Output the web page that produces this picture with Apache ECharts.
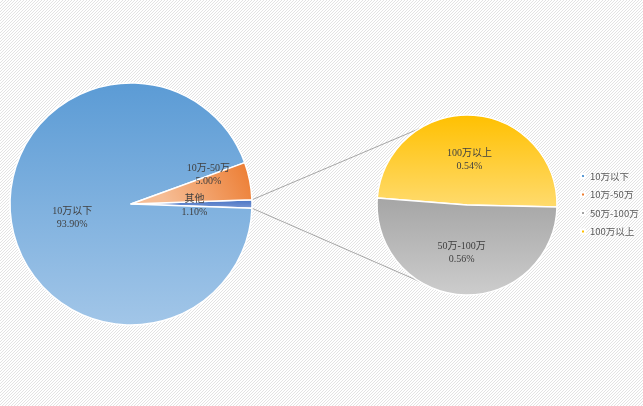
<!DOCTYPE html>
<html>
<head>
<meta charset="utf-8">
<script src="https://cdn.jsdelivr.net/npm/echarts@6/dist/echarts.min.js"></script>
<style>
html,body{margin:0;padding:0;width:643px;height:406px;overflow:hidden;background:#f2f2f2;}
#main{width:643px;height:406px;}
</style>
</head>
<body>
<div id="main"></div>
<script>
// ---- data ----
const mainNames = ['10万以下', '10万-50万'];
const mainValues = [93.90, 5.00];
const otherName = '其他';
const subNames = ['100万以上', '50万-100万'];
const subValues = [0.54, 0.56];
const legendNames = ['10万以下', '10万-50万', '50万-100万', '100万以上'];

// ---- striped background tile ----
(function () {
  const c = document.createElement('canvas');
  c.width = 3; c.height = 3;
  const g = c.getContext('2d');
  g.fillStyle = '#ffffff'; g.fillRect(0, 0, 3, 3);
  g.fillStyle = '#e3e3e3';
  for (let i = 0; i < 3; i++) g.fillRect(i, 2 - i, 1, 1);
  document.body.style.background = 'url(' + c.toDataURL() + ') repeat';
})();

// ---- styles ----
const grad = (c1, c2) => ({type:'linear', x:0, y:0, x2:0, y2:1, colorStops:[{offset:0,color:c1},{offset:1,color:c2}]});
const styleMap = {
  '10万以下': {fill: grad('#5b9bd5', '#a2c6e8'), solid: '#5b9bd5'},
  '10万-50万': {fill: {type:'linear',x:1,y:0,x2:0.3,y2:1,colorStops:[{offset:0,color:'#ec7a2e'},{offset:1,color:'#f6bd95'}]}, solid: '#ed7d31'},
  '其他': {fill: grad('#4472c4', '#7b98d4'), solid: '#4472c4'},
  '100万以上': {fill: grad('#ffc000', '#ffdb6e'), solid: '#ffc000'},
  '50万-100万': {fill: grad('#a5a5a5', '#cdcdcd'), solid: '#a5a5a5'}
};

const otherValue = subValues.reduce((a, b) => a + b, 0);
const mainTotal = mainValues.reduce((a, b) => a + b, 0) + otherValue;
const otherSpan = otherValue / mainTotal * 360;
const mainStart = otherSpan / 2;

const mainCenter = [131, 204], mainR = 121;
const subCenter = [467, 205], subR = 90;

const labelFont = {fontFamily: '"Liberation Serif","Noto Sans CJK SC",serif', fontSize: 10, color: '#404040', lineHeight: 13};
const fmt = v => v.toFixed(2) + '%';

const mainData = [{name: otherName, value: otherValue}].concat(mainNames.map((n, i) => ({name: n, value: mainValues[i]})))
  .map(d => ({...d, itemStyle: {color: styleMap[d.name].fill}}));
const subData = subNames.map((n, i) => ({name: n, value: subValues[i], itemStyle: {color: styleMap[n].fill}}));

const chart = echarts.init(document.getElementById('main'), null, {renderer: 'canvas'});

// connector lines computed from pie geometry
const toRad = a => a * Math.PI / 180;
const p1 = [mainCenter[0] + mainR * Math.cos(toRad(mainStart)), mainCenter[1] - mainR * Math.sin(toRad(mainStart))];
const p2 = [mainCenter[0] + mainR * Math.cos(toRad(mainStart - otherSpan)), mainCenter[1] - mainR * Math.sin(toRad(mainStart - otherSpan))];
const q1 = [subCenter[0] + subR * Math.cos(toRad(122)), subCenter[1] - subR * Math.sin(toRad(122))];
const q2 = [subCenter[0] + subR * Math.cos(toRad(238)), subCenter[1] - subR * Math.sin(toRad(238))];

const mainOffsets = {0: {dx: 0, dy: 2}, 1: {dx: 4, dy: 4}, 2: {dx: 15, dy: -17}};
const subOffsets = {0: {dx: 0, dy: 3}, 1: {dx: -3, dy: 0}};

chart.setOption({
  animation: false,
  backgroundColor: 'transparent',
  legend: {
    orient: 'vertical',
    left: 575,
    top: 165,
    itemWidth: 4,
    itemHeight: 4,
    itemGap: 6.5,
    icon: 'rect',
    textStyle: {fontFamily: '"Noto Sans CJK SC",sans-serif', fontSize: 9.5, color: '#595959', lineHeight: 12},
    data: legendNames.map(n => ({name: n, itemStyle: {color: styleMap[n].solid}}))
  },
  graphic: [
    {type: 'line', z: 1, shape: {x1: p1[0], y1: p1[1], x2: q1[0], y2: q1[1]}, style: {stroke: '#a6a6a6', lineWidth: 1}},
    {type: 'line', z: 1, shape: {x1: p2[0], y1: p2[1], x2: q2[0], y2: q2[1]}, style: {stroke: '#a6a6a6', lineWidth: 1}}
  ],
  series: [
    {
      type: 'pie',
      center: mainCenter,
      radius: mainR,
      startAngle: mainStart,
      clockwise: true,
      avoidLabelOverlap: false,
      itemStyle: {borderColor: '#ffffff', borderWidth: 1.5},
      label: {position: 'inside', formatter: p => p.name + '\n' + fmt(p.value), ...labelFont},
      labelLayout: p => mainOffsets[p.dataIndex] || {},
      emphasis: {disabled: true},
      data: mainData
    },
    {
      type: 'pie',
      center: subCenter,
      radius: subR,
      startAngle: 175.5,
      clockwise: true,
      avoidLabelOverlap: false,
      itemStyle: {borderColor: '#ffffff', borderWidth: 1.5},
      label: {position: 'inside', formatter: p => p.name + '\n' + fmt(p.value), ...labelFont},
      labelLayout: p => subOffsets[p.dataIndex] || {},
      emphasis: {disabled: true},
      data: subData
    }
  ]
});
</script>
</body>
</html>
